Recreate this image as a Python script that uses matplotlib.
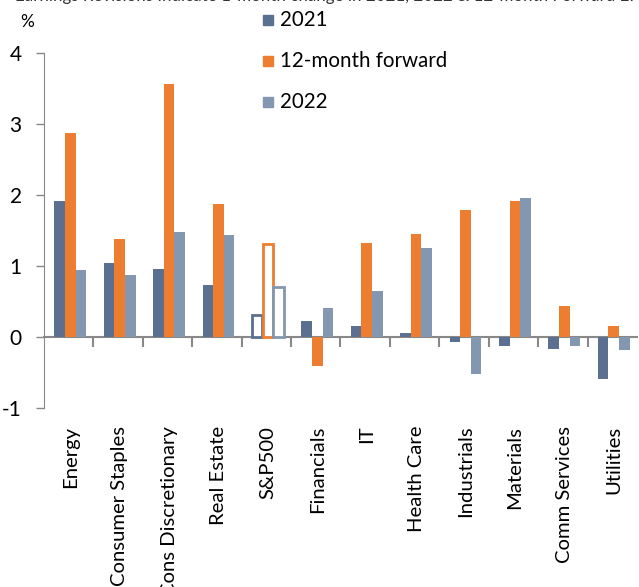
import matplotlib
matplotlib.use("Agg")
import matplotlib.pyplot as plt
import matplotlib.transforms as mtransforms
import numpy as np

plt.rcParams['font.family'] = ['Lato', 'DejaVu Sans']

categories = ["Energy", "Consumer Staples", "Cons Discretionary", "Real Estate", "S&P500",
              "Financials", "IT", "Health Care", "Industrials", "Materials",
              "Comm Services", "Utilities"]
rev_2021 = [1.91, 1.04, 0.96, 0.73, 0.31, 0.23, 0.15, 0.06, -0.07, -0.12, -0.17, -0.59]
rev_12m = [2.88, 1.38, 3.56, 1.87, 1.31, -0.41, 1.33, 1.45, 1.79, 1.91, 0.43, 0.16]
rev_2022 = [0.94, 0.87, 1.48, 1.44, 0.70, 0.41, 0.65, 1.25, -0.52, 1.96, -0.12, -0.19]
series_names = ["2021", "12-month forward", "2022"]
y_ticks = [-1, 0, 1, 2, 3, 4]
title = "Earnings Revisions Indicate 1-month change in 2021, 2022 & 12-month Forward EPS"

colors = ["#5B7090", "#ED7D31", "#8497B0"]
W, H = 639, 587
fig = plt.figure(figsize=(W / 100, H / 100), dpi=100)
ax = fig.add_axes([44 / W, 1 - 408 / H, 593 / W, 355 / H])

x = np.arange(len(categories))
bw = 0.215
highlight = categories.index("S&P500")
for k, (vals, c) in enumerate(zip([rev_2021, rev_12m, rev_2022], colors)):
    pos = x + (k - 1) * bw + 0.03
    for i, (p, v) in enumerate(zip(pos, vals)):
        if i == highlight:
            ax.bar(p, v, width=bw * 0.95, color="white", edgecolor=c, linewidth=2.0, zorder=3)
        else:
            ax.bar(p, v, width=bw, color=c, edgecolor="none", zorder=3)

ax.set_xlim(-0.5, len(categories) - 0.5)
ax.set_ylim(-1, 4)
ax.set_yticks(y_ticks)
ax.set_yticklabels([str(t) for t in y_ticks], fontsize=15)
ax.tick_params(axis="y", direction="out", length=6, width=1, color="#888888", pad=10)

for s in ["top", "right"]:
    ax.spines[s].set_visible(False)
ax.spines["left"].set_color("#888888")
ax.spines["bottom"].set_position(("data", 0))
ax.spines["bottom"].set_color("#888888")
ax.spines["bottom"].set_linewidth(1.5)
ax.set_xticks(np.arange(0.5, len(categories) - 0.5, 1.0))
ax.set_xticklabels([])
ax.tick_params(axis="x", direction="out", length=7, width=1.5, color="#888888")

trans = mtransforms.blended_transform_factory(ax.transData, ax.transAxes)
for i, name in enumerate(categories):
    ax.text(i + 0.03, -0.05, name, transform=trans, rotation=90, ha="center", va="top",
            fontsize=14.6, color="black")

fig.text(20 / W, 1 - 22 / H, "%", fontsize=12.5, ha="left", va="center")

legend_y = [20, 61, 102]
for name, c, ly in zip(series_names, colors, legend_y):
    fig.patches.append(plt.Rectangle((263 / W, 1 - (ly + 5) / H), 10 / W, 10 / H,
                                     transform=fig.transFigure, color=c, figure=fig))
    fig.text(280 / W, 1 - ly / H, name, fontsize=14.8, ha="left", va="center")

fig.text(15 / W, 1 - 1.5 / H, title, fontsize=12.2, color="#333333", ha="left", va="baseline")

fig.savefig("out.png", dpi=100)
